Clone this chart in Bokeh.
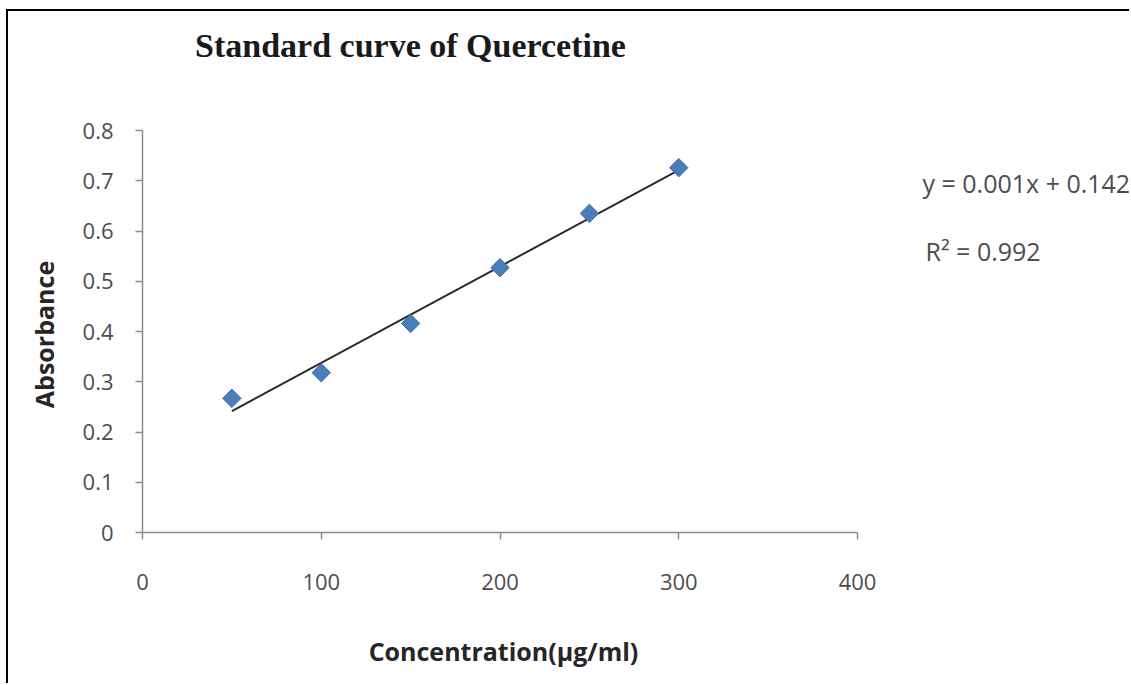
import numpy as np
from bokeh.plotting import figure
from bokeh.models import Range1d, FixedTicker, Label, ColumnDataSource
from bokeh.embed import file_html
from bokeh.resources import INLINE

# ---- data ----
concentration = [50, 100, 150, 200, 250, 300]
absorbance = [0.267, 0.318, 0.416, 0.527, 0.635, 0.726]
x_ticks = [0, 100, 200, 300, 400]
y_ticks = [0, 0.1, 0.2, 0.3, 0.4, 0.5, 0.6, 0.7, 0.8]
x_axis_bounds = (0, 400)
y_axis_bounds = (0, 0.8)
title_text = "Standard curve of Quercetine"
x_title = "Concentration(\u00b5g/ml)"
y_title = "Absorbance"
equation_text = "y = 0.001x + 0.142"
r2_text = "R\u00b2 = 0.992"

# ---- geometry (pixels): the plot frame fills the whole canvas, axes sit at x=0 / y=0 ----
W, H = 1123, 674
AX_LEFT, AX_BOTTOM = 134, 521          # canvas pixel position of the axes origin
AX_W, AX_H = 715, 402                  # pixel length of the 0-400 / 0-0.8 axes
ux = (x_axis_bounds[1] - x_axis_bounds[0]) / AX_W
uy = (y_axis_bounds[1] - y_axis_bounds[0]) / AX_H
x_range = Range1d(-AX_LEFT * ux, (W - AX_LEFT) * ux)
y_range = Range1d(-(H - AX_BOTTOM) * uy, AX_BOTTOM * uy)

p = figure(width=W, height=H, output_backend="svg", toolbar_location=None,
           x_range=x_range, y_range=y_range,
           min_border_left=0, min_border_right=0,
           min_border_top=0, min_border_bottom=0,
           styles={"border-top": "2px solid black", "border-left": "2px solid black",
                   "margin-top": "9px", "margin-left": "6px"})
p.outline_line_color = None
p.xgrid.visible = False
p.ygrid.visible = False
p.background_fill_color = "white"
p.border_fill_color = "white"

tick_font = "Open Sans"
for ax in (p.xaxis[0], p.yaxis[0]):
    ax.fixed_location = 0
    ax.axis_line_color = "#8c8c8c"
    ax.axis_line_width = 1.5
    ax.major_tick_line_color = "#8c8c8c"
    ax.major_tick_line_width = 1.5
    ax.minor_tick_line_color = None
    ax.major_tick_in = 0
    ax.major_tick_out = 7
    ax.major_label_text_font = tick_font
    ax.major_label_text_font_size = "22px"
    ax.major_label_text_color = "#4d4d4d"

p.xaxis.bounds = x_axis_bounds
p.yaxis.bounds = y_axis_bounds
p.xaxis.ticker = FixedTicker(ticks=x_ticks)
p.yaxis.ticker = FixedTicker(ticks=y_ticks)
p.yaxis.major_label_overrides = {0: "0"}
p.xaxis.major_label_standoff = 34
p.yaxis.major_label_standoff = 22

# trendline (least squares fit of the data)
slope, intercept = np.polyfit(concentration, absorbance, 1)
xs = [min(concentration), max(concentration)]
ys = [slope * v + intercept for v in xs]
p.line(xs, ys, line_color="#2b2b2b", line_width=2)

src = ColumnDataSource(dict(x=concentration, y=absorbance))
p.scatter("x", "y", source=src, marker="square", size=13, angle=np.pi / 4,
          fill_color="#4a7ebb", line_color="#3c6aa6", line_width=1)

# texts (positions given in pixels from the axes origin, converted to data units)
def lab(text, dx, dy, **kw):
    p.add_layout(Label(x=dx * ux, y=dy * uy, text=text, **kw))

lab(title_text, 268, 487, text_align="center", text_baseline="middle",
    text_font="Liberation Serif", text_font_style="bold",
    text_font_size="34px", text_color="#1a1a1a")
lab(y_title, -99, 198, angle=np.pi / 2, text_align="center", text_baseline="middle",
    text_font=tick_font, text_font_style="bold", text_font_size="25px",
    text_color="#262626")
lab(x_title, 361, -118, text_align="center", text_baseline="middle",
    text_font=tick_font, text_font_style="bold", text_font_size="25px",
    text_color="#262626")
lab(equation_text, 780, 350, text_align="left", text_baseline="middle",
    text_font=tick_font, text_font_size="25px", text_color="#4d4d4d")
lab(r2_text, 783, 282, text_align="left", text_baseline="middle",
    text_font=tick_font, text_font_size="25px", text_color="#4d4d4d")

open("out.html", "w").write(file_html(p, INLINE))
